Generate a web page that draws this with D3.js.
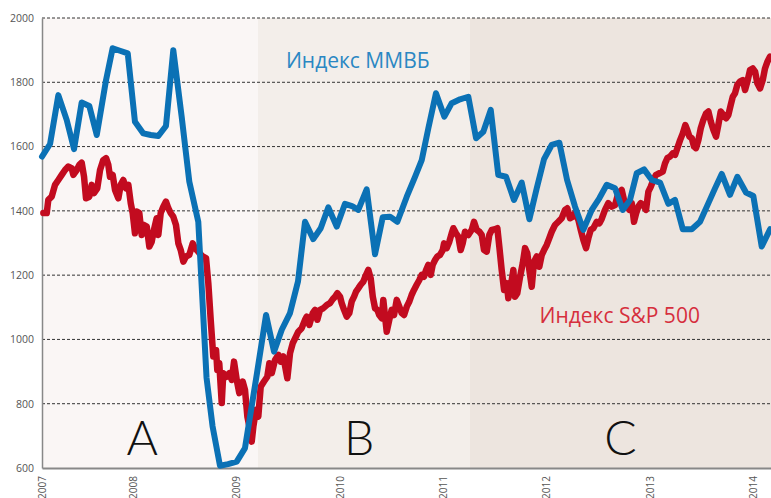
<!DOCTYPE html>
<html>
<head>
<meta charset="utf-8">
<script src="https://cdn.jsdelivr.net/npm/d3@7"></script>
<style>
  body { margin: 0; background: #fff; }
  svg { display: block; font-family: "Open Sans", "DejaVu Sans", sans-serif; }
</style>
</head>
<body>
<div id="chart"></div>
<script>
// time is in decimal years
var yTicks = [600, 800, 1000, 1200, 1400, 1600, 1800, 2000];
var yearTicks = [2007, 2008, 2009, 2010, 2011, 2012, 2013, 2014];

var regionNames = ["A", "B", "C"];
var regionStart = [2007.119, 2009.21, 2011.262];
var regionEnd = [2009.21, 2011.262, 2014.176];
var regionLabelAt = [2008.09, 2010.19, 2012.72];
var regionColors = ["#faf6f5", "#f3eeea", "#ede5df"];

// Индекс ММВБ (monthly)
var mmvbT = [2007.116, 2007.197, 2007.277, 2007.358, 2007.429, 2007.503, 2007.577, 2007.649, 2007.739, 2007.803,
  2007.874, 2007.949, 2008.019, 2008.100, 2008.172, 2008.245, 2008.319, 2008.390, 2008.471, 2008.545,
  2008.632, 2008.712, 2008.770, 2008.842, 2008.920, 2009.004, 2009.084, 2009.200, 2009.288, 2009.365,
  2009.440, 2009.520, 2009.597, 2009.665, 2009.745, 2009.817, 2009.891, 2009.972, 2010.052, 2010.120,
  2010.181, 2010.262, 2010.343, 2010.417, 2010.488, 2010.559, 2010.650, 2010.730, 2010.795, 2010.859,
  2010.933, 2011.014, 2011.085, 2011.166, 2011.246, 2011.321, 2011.391, 2011.463, 2011.536, 2011.611,
  2011.688, 2011.763, 2011.837, 2011.908, 2011.979, 2012.053, 2012.127, 2012.202, 2012.279, 2012.359,
  2012.441, 2012.514, 2012.586, 2012.666, 2012.741, 2012.811, 2012.876, 2012.947, 2013.022, 2013.102,
  2013.182, 2013.247, 2013.322, 2013.409, 2013.489, 2013.570, 2013.634, 2013.699, 2013.779, 2013.850,
  2013.934, 2014.005, 2014.086, 2014.167];
var mmvbV = [1569, 1608, 1760, 1683, 1592, 1737, 1726, 1636, 1807, 1906,
  1898, 1890, 1677, 1641, 1636, 1633, 1664, 1900, 1693, 1491,
  1366, 880, 730, 607, 612, 620, 662, 895, 1076, 962,
  1030, 1082, 1180, 1366, 1312, 1346, 1411, 1351, 1422, 1415,
  1403, 1467, 1265, 1380, 1382, 1366, 1444, 1506, 1558, 1657,
  1766, 1693, 1735, 1747, 1755, 1626, 1646, 1714, 1512, 1506,
  1434, 1488, 1374, 1470, 1561, 1605, 1612, 1496, 1413, 1341,
  1403, 1439, 1481, 1470, 1403, 1434, 1517, 1529, 1496, 1488,
  1422, 1434, 1343, 1343, 1366, 1424, 1470, 1515, 1450, 1506,
  1457, 1446, 1289, 1343];

// Индекс S&P 500 (weekly)
var spxT = [2007.132, 2007.165, 2007.180, 2007.213, 2007.245, 2007.277, 2007.310, 2007.342, 2007.374, 2007.407,
  2007.422, 2007.455, 2007.480, 2007.503, 2007.526, 2007.545, 2007.577, 2007.600, 2007.622, 2007.654,
  2007.681, 2007.712, 2007.739, 2007.761, 2007.777, 2007.803, 2007.826, 2007.858, 2007.881, 2007.906,
  2007.932, 2007.955, 2007.978, 2007.997, 2008.019, 2008.036, 2008.061, 2008.084, 2008.106, 2008.133,
  2008.158, 2008.181, 2008.203, 2008.229, 2008.245, 2008.268, 2008.293, 2008.319, 2008.342, 2008.365,
  2008.390, 2008.416, 2008.439, 2008.462, 2008.487, 2008.513, 2008.545, 2008.578, 2008.600, 2008.639,
  2008.675, 2008.707, 2008.729, 2008.752, 2008.777, 2008.804, 2008.816, 2008.835, 2008.859, 2008.874,
  2008.907, 2008.932, 2008.956, 2008.978, 2009.004, 2009.029, 2009.062, 2009.084, 2009.107, 2009.133,
  2009.149, 2009.165, 2009.191, 2009.213, 2009.236, 2009.268, 2009.300, 2009.320, 2009.343, 2009.375,
  2009.407, 2009.430, 2009.455, 2009.494, 2009.520, 2009.546, 2009.578, 2009.600, 2009.633, 2009.665,
  2009.682, 2009.707, 2009.740, 2009.762, 2009.784, 2009.810, 2009.842, 2009.875, 2009.907, 2009.933,
  2009.956, 2009.978, 2010.004, 2010.020, 2010.043, 2010.069, 2010.094, 2010.117, 2010.140, 2010.159,
  2010.181, 2010.204, 2010.230, 2010.256, 2010.278, 2010.301, 2010.321, 2010.343, 2010.365, 2010.384,
  2010.408, 2010.423, 2010.440, 2010.456, 2010.481, 2010.504, 2010.527, 2010.553, 2010.578, 2010.601,
  2010.624, 2010.650, 2010.675, 2010.698, 2010.720, 2010.746, 2010.772, 2010.795, 2010.817, 2010.837,
  2010.859, 2010.882, 2010.901, 2010.924, 2010.946, 2010.972, 2010.998, 2011.011, 2011.037, 2011.062,
  2011.085, 2011.101, 2011.127, 2011.149, 2011.172, 2011.192, 2011.214, 2011.246, 2011.279, 2011.301,
  2011.327, 2011.353, 2011.376, 2011.398, 2011.424, 2011.449, 2011.473, 2011.504, 2011.527, 2011.546,
  2011.569, 2011.592, 2011.618, 2011.633, 2011.656, 2011.682, 2011.698, 2011.720, 2011.747, 2011.773,
  2011.795, 2011.817, 2011.837, 2011.860, 2011.882, 2011.908, 2011.933, 2011.957, 2011.979, 2012.005,
  2012.030, 2012.053, 2012.085, 2012.117, 2012.150, 2012.182, 2012.204, 2012.231, 2012.257, 2012.279,
  2012.311, 2012.334, 2012.359, 2012.386, 2012.408, 2012.431, 2012.456, 2012.489, 2012.514, 2012.537,
  2012.569, 2012.601, 2012.634, 2012.666, 2012.698, 2012.731, 2012.753, 2012.779, 2012.805, 2012.828,
  2012.850, 2012.870, 2012.892, 2012.915, 2012.940, 2012.966, 2012.989, 2013.012, 2013.037, 2013.063,
  2013.095, 2013.128, 2013.150, 2013.173, 2013.199, 2013.225, 2013.247, 2013.269, 2013.296, 2013.322,
  2013.347, 2013.366, 2013.386, 2013.409, 2013.431, 2013.450, 2013.473, 2013.496, 2013.521, 2013.547,
  2013.570, 2013.593, 2013.618, 2013.644, 2013.666, 2013.689, 2013.715, 2013.741, 2013.763, 2013.786,
  2013.806, 2013.828, 2013.850, 2013.876, 2013.903, 2013.925, 2013.947, 2013.973, 2013.999, 2014.022,
  2014.044, 2014.070, 2014.096, 2014.118, 2014.141, 2014.167];
var spxV = [1393, 1393, 1434, 1444, 1481, 1496, 1512, 1527, 1538, 1532,
  1512, 1527, 1543, 1550, 1506, 1439, 1444, 1481, 1455, 1470,
  1527, 1558, 1564, 1543, 1506, 1512, 1465, 1439, 1481, 1496,
  1470, 1481, 1424, 1393, 1330, 1398, 1393, 1325, 1356, 1351,
  1289, 1304, 1341, 1377, 1325, 1393, 1413, 1429, 1408, 1393,
  1382, 1356, 1299, 1278, 1242, 1258, 1263, 1299, 1284, 1270,
  1258, 1253, 1175, 1061, 947, 967, 905, 926, 802, 895,
  884, 895, 874, 931, 874, 833, 869, 843, 760, 719,
  682, 729, 781, 760, 853, 869, 884, 926, 895, 936,
  952, 931, 947, 879, 957, 988, 1009, 1024, 1035, 1061,
  1071, 1045, 1082, 1092, 1061, 1092, 1097, 1107, 1113, 1125,
  1133, 1144, 1133, 1113, 1092, 1071, 1082, 1118, 1133, 1149,
  1159, 1170, 1180, 1201, 1216, 1190, 1133, 1097, 1092, 1076,
  1066, 1123, 1071, 1024, 1061, 1092, 1076, 1123, 1102, 1082,
  1076, 1102, 1118, 1139, 1154, 1170, 1185, 1201, 1195, 1216,
  1232, 1201, 1232, 1247, 1258, 1263, 1278, 1299, 1284, 1304,
  1330, 1346, 1330, 1320, 1278, 1300, 1335, 1325, 1341, 1366,
  1341, 1335, 1325, 1278, 1273, 1325, 1341, 1343, 1346, 1289,
  1216, 1154, 1175, 1128, 1164, 1216, 1133, 1144, 1195, 1237,
  1284, 1268, 1216, 1164, 1242, 1258, 1226, 1263, 1278, 1294,
  1315, 1335, 1356, 1366, 1377, 1403, 1408, 1377, 1382, 1393,
  1372, 1341, 1310, 1284, 1315, 1341, 1346, 1366, 1361, 1375,
  1403, 1424, 1413, 1418, 1455, 1465, 1434, 1418, 1403, 1424,
  1366, 1392, 1413, 1424, 1418, 1403, 1460, 1475, 1496, 1512,
  1517, 1522, 1548, 1564, 1569, 1579, 1574, 1595, 1620, 1641,
  1667, 1651, 1631, 1626, 1600, 1595, 1620, 1657, 1683, 1703,
  1709, 1678, 1652, 1631, 1667, 1709, 1698, 1688, 1698, 1729,
  1755, 1766, 1792, 1802, 1807, 1776, 1802, 1838, 1843, 1833,
  1797, 1781, 1807, 1843, 1864, 1880];

var width = 771, height = 498;
var margin = { top: 18, right: 0, bottom: 30, left: 42 };
var plotW = width - margin.left - margin.right,
  plotH = height - margin.top - margin.bottom;

var x = d3.scaleLinear().domain([2007.119, 2014.176]).range([0, plotW]).clamp(true);
var y = d3.scaleLinear().domain([600, 2000]).range([plotH, 0]);

var svg = d3.select("#chart").append("svg")
  .attr("width", width)
  .attr("height", height);

var G = svg.append("g")
  .attr("transform", "translate(" + margin.left + "," + margin.top + ")");

// shaded periods
G.selectAll(".region")
  .data(regionNames)
  .enter()
  .append("rect")
  .attr("class", "region")
  .attr("x", function (d, i) { return x(regionStart[i]); })
  .attr("y", 0)
  .attr("width", function (d, i) { return x(regionEnd[i]) - x(regionStart[i]); })
  .attr("height", plotH)
  .attr("fill", function (d, i) { return regionColors[i]; });

// dashed grid
G.selectAll(".grid")
  .data(yTicks.slice(1))
  .enter()
  .append("line")
  .attr("class", "grid")
  .attr("x1", 0)
  .attr("x2", plotW)
  .attr("y1", function (d) { return y(d); })
  .attr("y2", function (d) { return y(d); })
  .attr("stroke", "#333")
  .attr("stroke-width", 1)
  .attr("stroke-dasharray", "3,2");

// period letters
G.selectAll(".regionLabel")
  .data(regionNames)
  .enter()
  .append("text")
  .attr("class", "regionLabel")
  .attr("x", function (d, i) { return x(regionLabelAt[i]); })
  .attr("y", y(640))
  .attr("text-anchor", "middle")
  .style("font-family", "Lato, 'Open Sans', sans-serif")
  .style("font-size", "48px")
  .style("font-weight", "300")
  .attr("fill", "#111")
  .text(function (d) { return d; });

// axes
var yAxis = G.append("g")
  .call(d3.axisLeft(y).tickValues(yTicks).tickFormat(d3.format("d")).tickSize(0).tickPadding(8));
yAxis.select(".domain").attr("stroke", "#888").attr("stroke-width", 1.5);
yAxis.selectAll("text")
  .style("font-size", "10.5px")
  .attr("fill", "#555")
  .attr("font-family", "'Open Sans', sans-serif");

var xAxis = G.append("g")
  .attr("transform", "translate(0," + plotH + ")")
  .call(d3.axisBottom(x).tickValues(yearTicks).tickFormat(d3.format("d")).tickSize(0));
xAxis.select(".domain").attr("stroke", "#888").attr("stroke-width", 2);
xAxis.selectAll("text")
  .attr("transform", "rotate(-90)")
  .attr("text-anchor", "end")
  .attr("x", -8)
  .attr("y", 0)
  .attr("dy", "0.35em")
  .style("font-size", "10px")
  .attr("fill", "#555")
  .attr("font-family", "'Open Sans', sans-serif");

// lines
var line = d3.line()
  .x(function (d) { return x(d[0]); })
  .y(function (d) { return y(d[1]); });

G.append("path")
  .datum(d3.zip(spxT, spxV))
  .attr("fill", "none")
  .attr("stroke", "#c20b1f")
  .attr("stroke-width", 6.5)
  .attr("stroke-linejoin", "round")
  .attr("stroke-linecap", "round")
  .attr("d", line);

G.append("path")
  .datum(d3.zip(mmvbT, mmvbV))
  .attr("fill", "none")
  .attr("stroke", "#0b71b5")
  .attr("stroke-width", 6)
  .attr("stroke-linejoin", "round")
  .attr("stroke-linecap", "round")
  .attr("d", line);

// series names
G.append("text")
  .attr("x", x(2009.48))
  .attr("y", y(1845))
  .style("font-size", "21px")
  .attr("fill", "#2a87c3")
  .text("Индекс ММВБ");

G.append("text")
  .attr("x", x(2011.935))
  .attr("y", y(1050))
  .style("font-size", "21px")
  .attr("fill", "#d62f3d")
  .text("Индекс S&P 500");
</script>
</body>
</html>
